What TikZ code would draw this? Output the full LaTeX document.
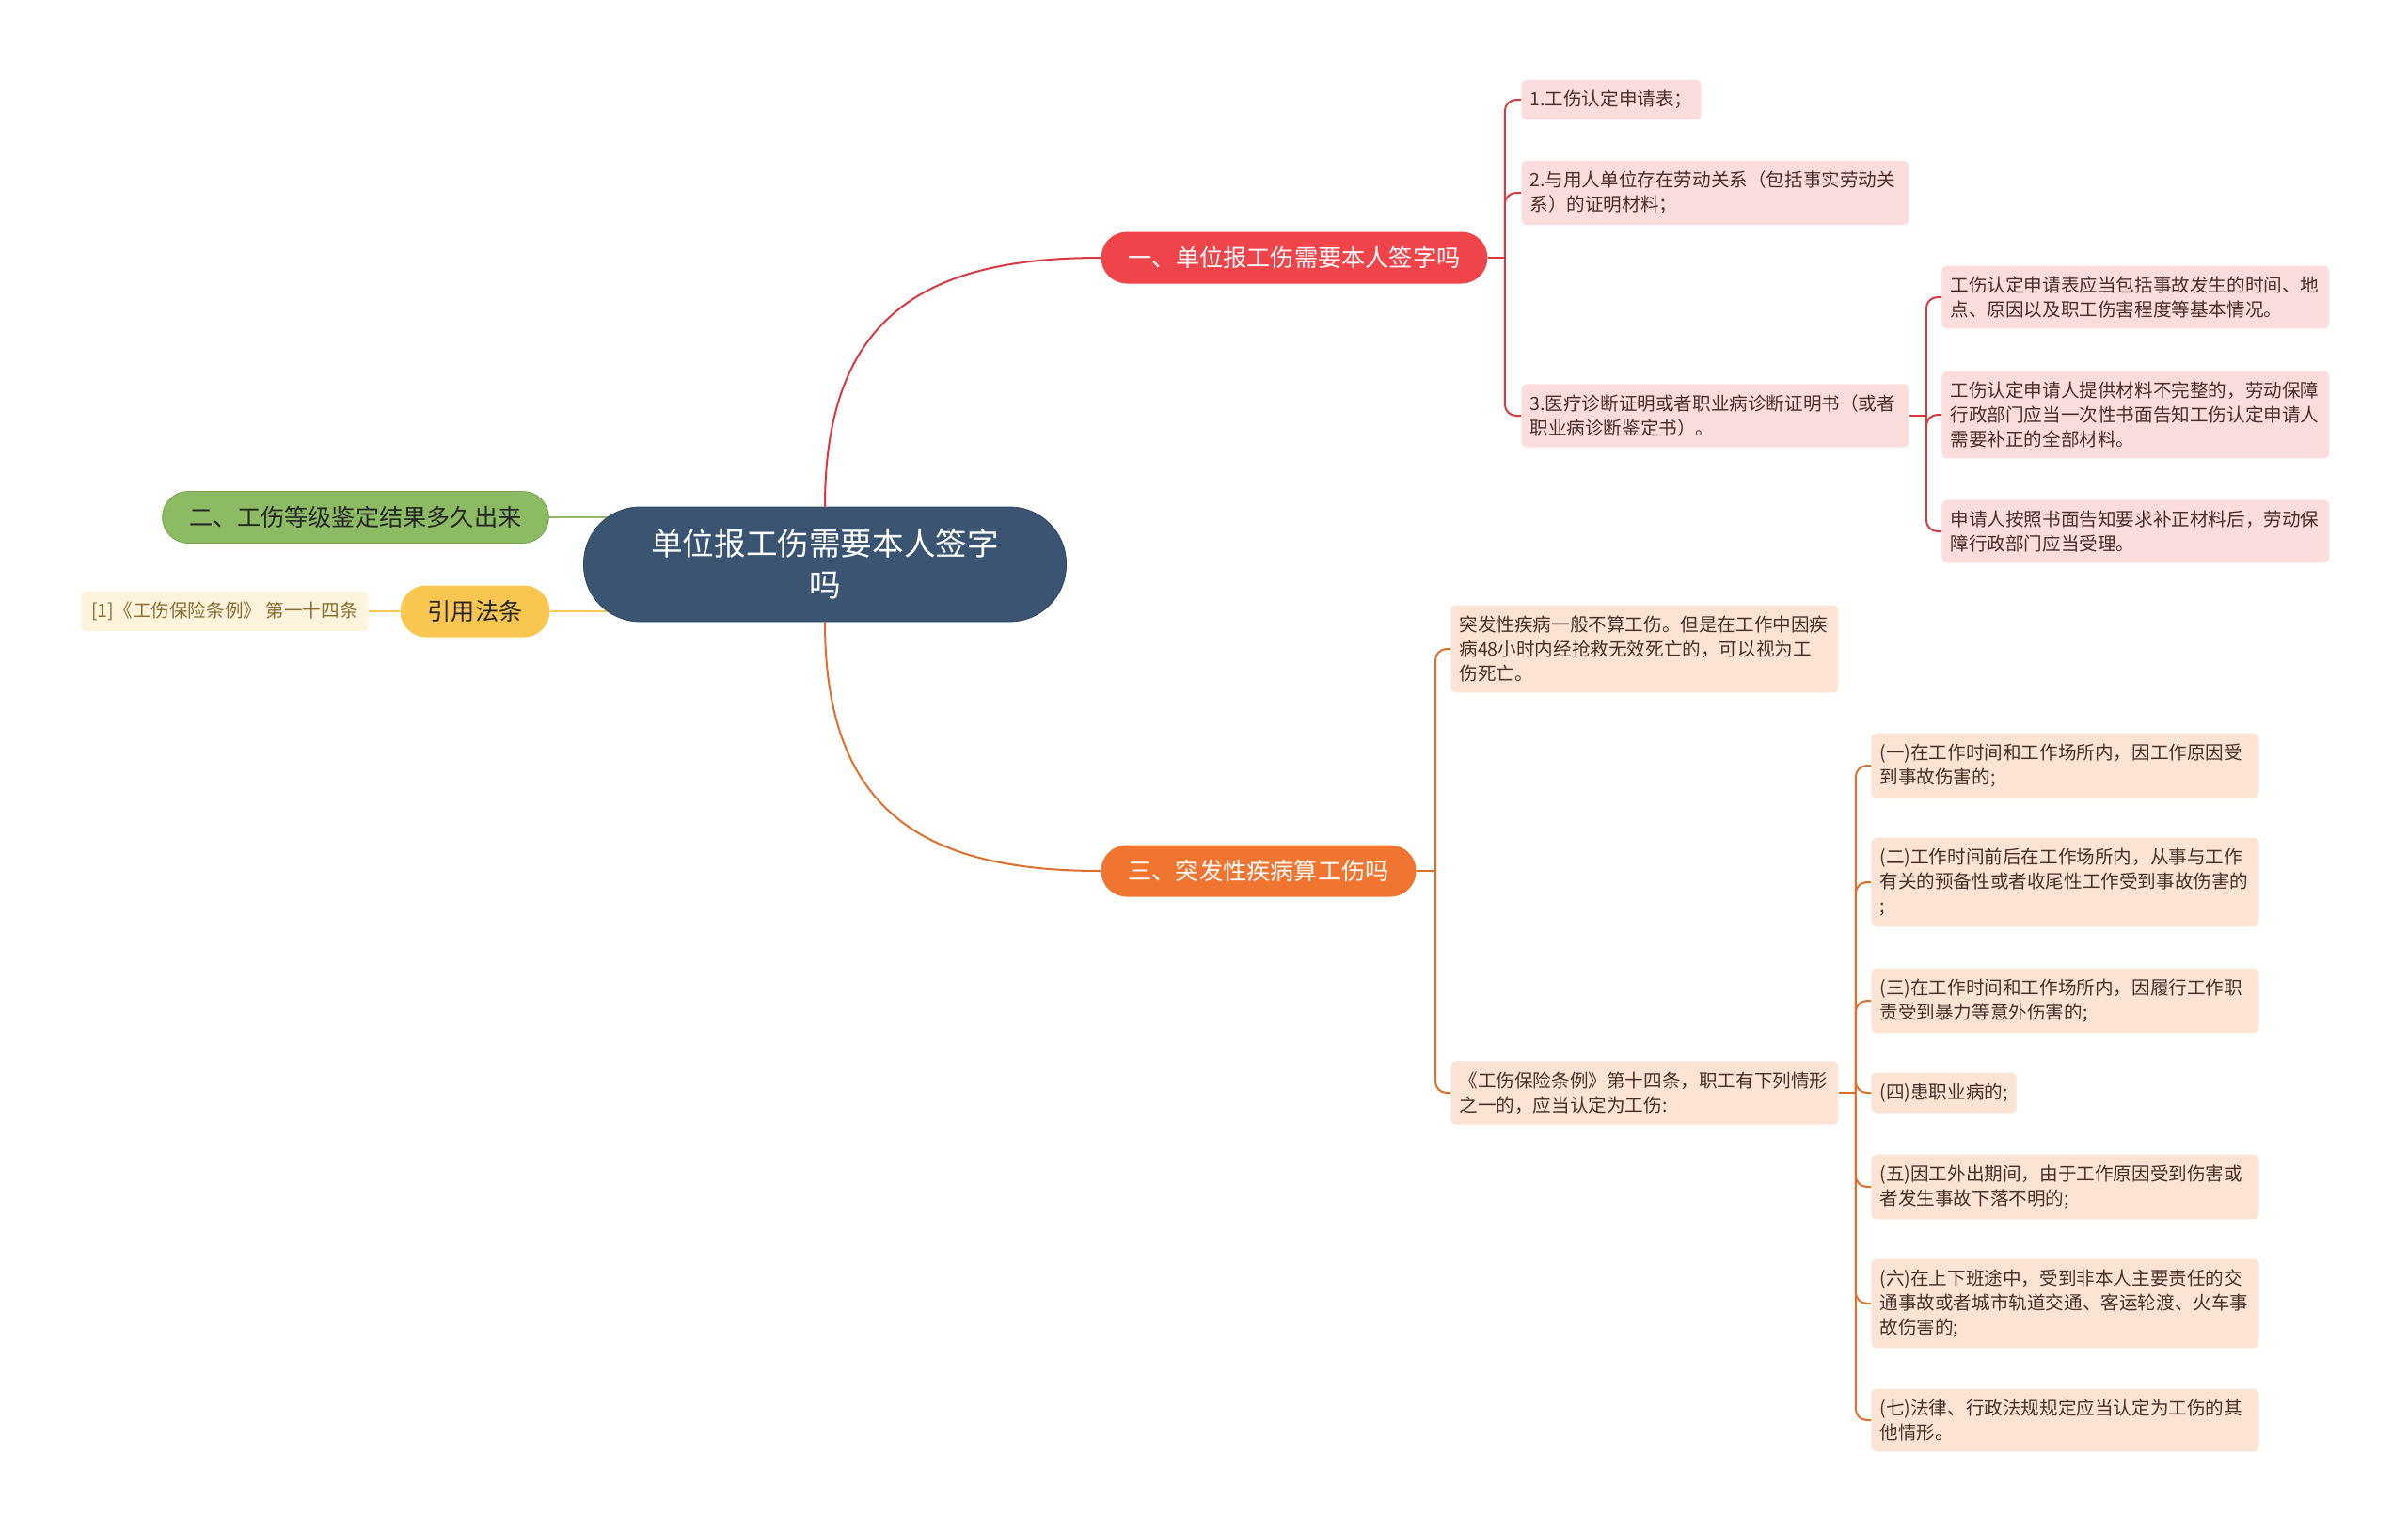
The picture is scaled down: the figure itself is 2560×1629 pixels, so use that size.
\documentclass[tikz,border=0pt]{standalone}
\usepackage{fontspec}
\setmainfont{Noto Sans CJK SC}
\usetikzlibrary{positioning,backgrounds}
\definecolor{hubblue}{HTML}{3A5472}
\definecolor{redmain}{HTML}{F0444B}
\definecolor{redline}{HTML}{D63A40}
\definecolor{redleaf}{HTML}{FCDDDD}
\definecolor{orgmain}{HTML}{F07530}
\definecolor{orgline}{HTML}{DD6E2C}
\definecolor{orgleaf}{HTML}{FCE4D5}
\definecolor{grnmain}{HTML}{8DBB63}
\definecolor{yelmain}{HTML}{F8C651}
\definecolor{citefill}{HTML}{FEF4DE}
\definecolor{citetext}{HTML}{8A6B2E}
\definecolor{leaftext}{HTML}{4A2E2A}
\begin{document}
\begin{tikzpicture}[x=0.5pt, y=-0.5pt,
    hub/.style={rounded corners=30pt, fill=hubblue, draw=hubblue!85!black, text=white,
      minimum width=256.5pt, minimum height=61pt, align=center, font=\fontsize{16.8}{22}\selectfont},
    topic/.style={rounded corners=13.75pt, minimum height=27.5pt, inner xsep=14.5pt,
      font=\fontsize{12.6}{15}\selectfont, text=black!85},
    leaf/.style={rounded corners=2.5pt, inner xsep=4.5pt, inner ysep=5.6pt, anchor=west,
      font=\fontsize{9.8}{13}\selectfont, text=leaftext, align=left},
    wide/.style={text width=197pt},
    link/.style={line width=1pt}]
    % page frame: 1 unit = 1 px of the 2560 x 1629 sheet, y runs downwards
    \useasboundingbox (0,0) rectangle (2560,1629);
    % centre and first-level topics
    \node[hub] (c) at (877,600) {单位报工伤需要本人签字\\吗};
    \node[topic, fill=redmain, text=white] (b1) at (1376,274) {一、单位报工伤需要本人签字吗};
    \node[topic, fill=orgmain, text=white] (b3) at (1338,926) {三、突发性疾病算工伤吗};
    \node[topic, fill=grnmain, draw=grnmain!85!black] (b2) at (378,550) {二、工伤等级鉴定结果多久出来};
    \node[topic, fill=yelmain] (law) at (505,650) {引用法条};
    \node[leaf, fill=citefill, text=citetext, inner xsep=5.5pt, anchor=east] (cite) at (392,650) {[1]《工伤保险条例》 第一十四条};
    % red branch leaves
    \node[leaf, fill=redleaf] (r1) at (1617,106) {1.工伤认定申请表；};
    \foreach \n/\y/\t in {r2/205/{2.与用人单位存在劳动关系（包括事实劳动关\\系）的证明材料；},
                          r3/442/{3.医疗诊断证明或者职业病诊断证明书（或者\\职业病诊断鉴定书）。}}
        \node[leaf, wide, fill=redleaf] (\n) at (1617,\y) {\t};
    \foreach \n/\y/\t in {s1/316/{工伤认定申请表应当包括事故发生的时间、地\\点、原因以及职工伤害程度等基本情况。},
                          s2/441/{工伤认定申请人提供材料不完整的，劳动保障\\行政部门应当一次性书面告知工伤认定申请人\\需要补正的全部材料。},
                          s3/565/{申请人按照书面告知要求补正材料后，劳动保\\障行政部门应当受理。}}
        \node[leaf, wide, fill=redleaf] (\n) at (2064,\y) {\t};
    % orange branch leaves
    \foreach \n/\y/\t in {o1/690/{突发性疾病一般不算工伤。但是在工作中因疾\\病48小时内经抢救无效死亡的，可以视为工\\伤死亡。},
                          o2/1162/{《工伤保险条例》第十四条，职工有下列情形\\之一的，应当认定为工伤:}}
        \node[leaf, wide, fill=orgleaf] (\n) at (1542,\y) {\t};
    \foreach \n/\y/\t in {p1/814/{(一)在工作时间和工作场所内，因工作原因受\\到事故伤害的;},
                          p2/938/{(二)工作时间前后在工作场所内，从事与工作\\有关的预备性或者收尾性工作受到事故伤害的\\;},
                          p3/1064/{(三)在工作时间和工作场所内，因履行工作职\\责受到暴力等意外伤害的;},
                          p5/1262/{(五)因工外出期间，由于工作原因受到伤害或\\者发生事故下落不明的;},
                          p6/1386/{(六)在上下班途中，受到非本人主要责任的交\\通事故或者城市轨道交通、客运轮渡、火车事\\故伤害的;},
                          p7/1510/{(七)法律、行政法规规定应当认定为工伤的其\\他情形。}}
        \node[leaf, wide, fill=orgleaf] (\n) at (1989,\y) {\t};
    \node[leaf, fill=orgleaf] (p4) at (1989,1162) {(四)患职业病的;};
    % joints of the brackets
    \coordinate[right=9pt of b1] (j1);
    \coordinate[right=9pt of r3] (j3);
    \coordinate[right=10pt of b3] (k1);
    \coordinate[right=9pt of o2] (k2);
    % connectors
    \begin{scope}[on background layer]
        \draw[link, grnmain] (b2.east) -- (c.center |- b2.east);
        \draw[link, yelmain] (law.east) -- (c.center |- law.east);
        \draw[link, yelmain] (cite.east) -- (law.west);
    \end{scope}
    \draw[link, redline] (c.north) .. controls +(0,-200) and +(-190,0) .. (b1.west);
    \draw[link, orgline] (c.south) .. controls +(0,200) and +(-190,0) .. (b3.west);
    \draw[link, redline] (b1.east) -- (j1);
    \draw[link, redline] (r3.east) -- (j3);
    \draw[link, orgline] (b3.east) -- (k1);
    \draw[link, orgline] (o2.east) -- (k2);
    \foreach \n in {r1,r2,r3} \draw[link, redline, rounded corners=6pt] (j1) |- (\n.west);
    \foreach \n in {s1,s2,s3} \draw[link, redline, rounded corners=6pt] (j3) |- (\n.west);
    \foreach \n in {o1,o2} \draw[link, orgline, rounded corners=6pt] (k1) |- (\n.west);
    \foreach \n in {p1,p2,p3,p4,p5,p6,p7} \draw[link, orgline, rounded corners=6pt] (k2) |- (\n.west);
\end{tikzpicture}
\end{document}
